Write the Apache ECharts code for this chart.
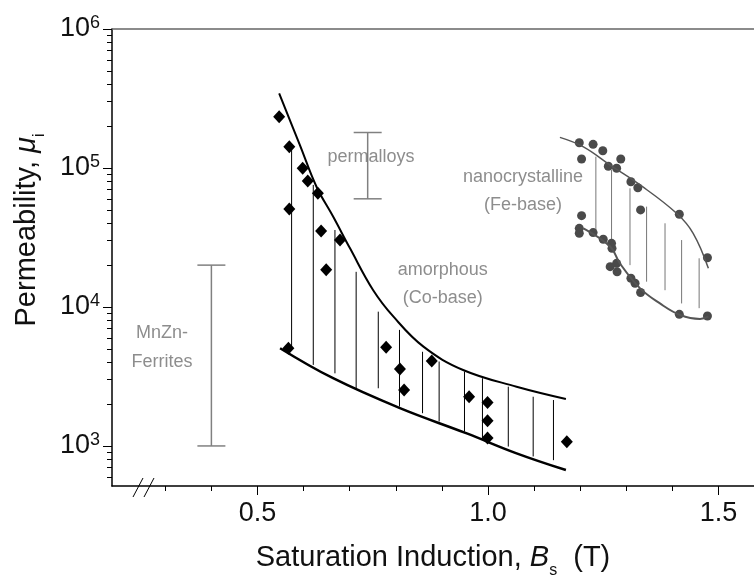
<!DOCTYPE html>
<html>
<head>
<meta charset="utf-8">
<script src="https://cdn.jsdelivr.net/npm/echarts@6/dist/echarts.min.js"></script>
<style>
  html, body { margin: 0; padding: 0; background: #fff; }
  #chart { width: 754px; height: 577px; }
</style>
</head>
<body>
<div id="chart"></div>
<script>
var FONT = '"Liberation Sans", Arial, sans-serif';

// axis ticks
var xMajor = [0.5, 1.0, 1.5];
var xMinor = [0.3, 0.4, 0.6, 0.7, 0.8, 0.9, 1.1, 1.2, 1.3, 1.4];
var yMinor = [600, 700, 800, 900, 2000, 3000, 4000, 5000, 6000, 7000, 8000, 9000,
  20000, 30000, 40000, 50000, 60000, 70000, 80000, 90000,
  200000, 300000, 400000, 500000, 600000, 700000, 800000, 900000];

// amorphous (Co-base)
var amoUpper = [[0.547, 344000], [0.592, 146000], [0.628, 73300], [0.664, 44700], [0.701, 26300],
  [0.751, 13200], [0.795, 8510], [0.860, 5180], [0.946, 3520], [1.062, 2670], [1.169, 2180]];
var amoLower = [[0.549, 5050], [0.664, 3070], [0.809, 1870], [0.954, 1230], [1.062, 885], [1.169, 671]];
var amoHatch = [[0.574, 142000, 5050], [0.621, 75500, 3830], [0.668, 35800, 3330], [0.714, 17900, 2600],
  [0.762, 9250, 2600], [0.808, 6840, 1920], [0.858, 4760, 1720], [0.894, 4050, 1500],
  [0.949, 3430, 1270], [0.988, 3070, 1140], [1.044, 2670, 990], [1.098, 2260, 840], [1.142, 2140, 790]];
var amoPoints = [[0.547, 234000], [0.569, 142000], [0.569, 50700], [0.598, 99500], [0.609, 80500],
  [0.631, 65700], [0.638, 35200], [0.679, 30300], [0.649, 18500], [0.567, 5050], [0.779, 5130],
  [0.809, 3580], [0.818, 2530], [0.878, 4090], [0.959, 2260], [0.999, 2050], [0.999, 1520],
  [0.999, 1140], [1.171, 1070]];

// nanocrystalline (Fe-base)
var nanoUpper = [[1.156, 166000], [1.207, 142000], [1.265, 105000], [1.330, 75500], [1.409, 47200],
  [1.445, 33900], [1.478, 19000]];
var nanoLower = [[1.207, 36800], [1.265, 27200], [1.286, 20600], [1.330, 13600], [1.373, 10600],
  [1.417, 8750], [1.460, 8200], [1.478, 8510]];
var nanoHatch = [[1.234, 120500, 35800], [1.268, 96800, 27200], [1.308, 71400, 20000],
  [1.344, 52700, 15200], [1.384, 40000, 13200], [1.420, 30300, 10600], [1.458, 22400, 9800]];
var nanoPoints = [[1.198, 152000], [1.228, 148000], [1.249, 133000], [1.203, 116000], [1.288, 116000],
  [1.261, 103000], [1.279, 99500], [1.310, 79600], [1.325, 72100], [1.331, 49900], [1.415, 46500],
  [1.476, 22600], [1.203, 45400], [1.198, 36800], [1.198, 33900], [1.228, 34300], [1.250, 30700],
  [1.268, 28700], [1.269, 26400], [1.265, 19500], [1.279, 20600], [1.280, 17900], [1.310, 16100],
  [1.319, 14800], [1.331, 12700], [1.415, 8850], [1.476, 8610]];

// MnZn-ferrites and permalloys ranges: x, low, high
var ranges = [[0.40, 1000, 20000], [0.739, 60000, 180000]];

// annotations: x, y, text
var notes = [[0.293, 6500, 'MnZn-'], [0.293, 4000, 'Ferrites'], [0.746, 120000, 'permalloys'],
  [0.902, 18500, 'amorphous'], [0.902, 11600, '(Co-base)'],
  [1.076, 86000, 'nanocrystalline'], [1.076, 54000, '(Fe-base)']];

var chart = echarts.init(document.getElementById('chart'));

function hatch(color) {
  return function (params, api) {
    var a = api.coord([api.value(0), api.value(1)]);
    var b = api.coord([api.value(0), api.value(2)]);
    return {
      type: 'line',
      shape: { x1: a[0], y1: a[1], x2: b[0], y2: b[1] },
      style: { stroke: color, lineWidth: 1 }
    };
  };
}

function rangeBar(params, api) {
  var a = api.coord([api.value(0), api.value(1)]);
  var b = api.coord([api.value(0), api.value(2)]);
  var st = { stroke: '#808080', lineWidth: 1.5 };
  return {
    type: 'group',
    children: [
      { type: 'line', shape: { x1: a[0], y1: a[1], x2: b[0], y2: b[1] }, style: st },
      { type: 'line', shape: { x1: a[0] - 14, y1: a[1], x2: a[0] + 14, y2: a[1] }, style: st },
      { type: 'line', shape: { x1: b[0] - 14, y1: b[1], x2: b[0] + 14, y2: b[1] }, style: st }
    ]
  };
}

var option = {
  animation: false,
  backgroundColor: '#fff',
  textStyle: { fontFamily: FONT },
  grid: { left: 112, right: 0, top: 29, bottom: 91, containLabel: false, outerBoundsMode: 'none' },
  xAxis: [{
    type: 'value', min: 0.1844, max: 1.577,
    name: 'Saturation Induction, {b|B}{s|s}  (T)',
    nameLocation: 'middle', nameGap: 55,
    nameTextStyle: {
      fontSize: 29, lineHeight: 34, color: '#111', fontFamily: FONT,
      rich: {
        b: { fontSize: 29, lineHeight: 34, fontStyle: 'italic', color: '#111', fontFamily: FONT },
        s: { fontSize: 16, lineHeight: 16, color: '#111', verticalAlign: 'top', padding: [22, 0, 0, 0], fontFamily: FONT }
      }
    },
    axisLine: { lineStyle: { color: '#000', width: 1.5 } },
    axisTick: { customValues: xMajor, length: 9, lineStyle: { color: '#000' } },
    axisLabel: {
      customValues: xMajor, margin: 14, fontSize: 27, color: '#111',
      formatter: function (v) { return v.toFixed(1); }
    },
    splitLine: { show: false }
  }, {
    type: 'value', min: 0.1844, max: 1.577, position: 'bottom',
    axisLine: { show: false },
    axisTick: { customValues: xMinor, length: 5, lineStyle: { color: '#000' } },
    axisLabel: { show: false },
    splitLine: { show: false }
  }, {
    type: 'value', min: 0.1844, max: 1.577, position: 'top',
    axisLine: { lineStyle: { color: '#666', width: 1.5 } },
    axisTick: { show: false }, axisLabel: { show: false }, splitLine: { show: false }
  }],
  yAxis: [{
    type: 'log', logBase: 10, min: 515, max: 1000000,
    axisLine: { show: true, lineStyle: { color: '#000', width: 1.5 } },
    axisTick: { show: true, length: 9, lineStyle: { color: '#000' } },
    axisLabel: {
      margin: 12, showMinLabel: false,
      formatter: function (v) {
        var n = Math.log10(v);
        if (Math.abs(n - Math.round(n)) > 1e-6) return '';
        return '{b|10}{s|' + Math.round(n) + '}';
      },
      rich: {
        b: { fontSize: 27, lineHeight: 30, color: '#111', fontFamily: FONT },
        s: { fontSize: 18, lineHeight: 18, color: '#111', verticalAlign: 'top', fontFamily: FONT }
      }
    },
    splitLine: { show: false }
  }, {
    type: 'value', min: Math.log10(515), max: 6, position: 'left',
    axisLine: { show: false },
    axisTick: { show: true, customValues: yMinor.map(Math.log10), length: 5, lineStyle: { color: '#000' } },
    axisLabel: { show: false },
    splitLine: { show: false }
  }],
  graphic: [{
    type: 'text', x: 27, y: 230, rotation: Math.PI / 2,
    style: {
      text: 'Permeability, {mu|μ}{i|i}',
      font: '29px ' + FONT, fill: '#111', align: 'center', verticalAlign: 'middle', lineHeight: 34,
      rich: {
        mu: { font: 'italic 29px ' + FONT, fill: '#111', lineHeight: 34 },
        i: { font: '16px ' + FONT, fill: '#111', verticalAlign: 'top', lineHeight: 16, padding: [22, 0, 0, 0] }
      }
    }
  }, {
    type: 'line', shape: { x1: 133, y1: 497, x2: 143, y2: 478 }, style: { stroke: '#000', lineWidth: 1 }
  }, {
    type: 'line', shape: { x1: 144, y1: 497, x2: 154, y2: 478 }, style: { stroke: '#000', lineWidth: 1 }
  }],
  series: [
    { type: 'line', data: amoUpper, smooth: 0.4, showSymbol: false, lineStyle: { color: '#000', width: 2 } },
    { type: 'line', data: amoLower, smooth: 0.4, showSymbol: false, lineStyle: { color: '#000', width: 2.5 } },
    { type: 'custom', data: amoHatch, renderItem: hatch('#000'), encode: { x: 0, y: [1, 2] } },
    { type: 'scatter', data: amoPoints, symbol: 'diamond', symbolSize: [12, 13], itemStyle: { color: '#000', opacity: 1 } },
    { type: 'line', data: nanoUpper, smooth: 0.4, showSymbol: false, lineStyle: { color: '#555', width: 1.5 } },
    { type: 'line', data: nanoLower, smooth: 0.4, showSymbol: false, lineStyle: { color: '#555', width: 2 } },
    { type: 'custom', data: nanoHatch, renderItem: hatch('#777'), encode: { x: 0, y: [1, 2] } },
    { type: 'scatter', data: nanoPoints, symbol: 'circle', symbolSize: 9, itemStyle: { color: '#4a4a4a', opacity: 1 } },
    { type: 'custom', data: ranges, renderItem: rangeBar, encode: { x: 0, y: [1, 2] } },
    {
      type: 'scatter', data: notes, symbolSize: 0, silent: true,
      label: {
        show: true, position: 'inside', fontSize: 18, color: '#707070', fontFamily: FONT,
        formatter: function (p) { return p.data[2]; }
      }
    }
  ]
};
chart.setOption(option);
</script>
</body>
</html>
